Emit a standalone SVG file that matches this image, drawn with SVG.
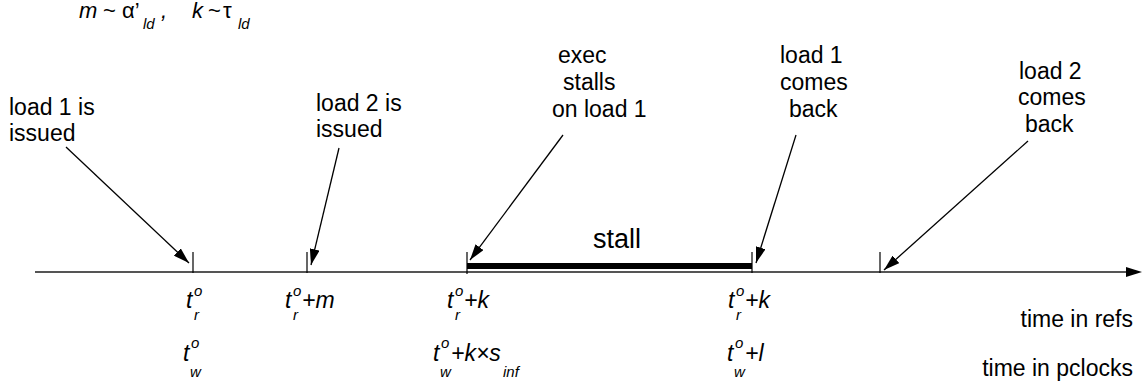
<svg xmlns="http://www.w3.org/2000/svg" width="1146" height="391" viewBox="0 0 1146 391">
<defs>
<style>
.lbl{font-family:"Liberation Sans",Arial,sans-serif;font-size:23px;fill:#000}
.big{font-family:"Liberation Sans",Arial,sans-serif;font-size:27px;fill:#000}
.m{font-family:"Liberation Sans",Arial,sans-serif;font-size:23px;font-style:italic;fill:#000}
.f{font-family:"Liberation Sans",Arial,sans-serif;font-size:22px;font-style:italic;fill:#000}
.s{font-size:15px}
.up{font-style:normal}
.arr{stroke:#000;stroke-width:1.3;fill:none;marker-end:url(#ah)}
.tick{stroke:#000;stroke-width:1.2}
</style>
<marker id="ah" viewBox="0 0 16 10" refX="16" refY="5" markerWidth="16" markerHeight="10" markerUnits="userSpaceOnUse" orient="auto">
<path d="M0,0 L16,5 L0,10 z" fill="#000"/>
</marker>
<marker id="axh" viewBox="0 0 16 10" refX="1" refY="5" markerWidth="16" markerHeight="10" markerUnits="userSpaceOnUse" orient="auto">
<path d="M0,0 L16,5 L0,10 z" fill="#000"/>
</marker>
</defs>
<rect width="1146" height="391" fill="#fff"/>

<g id="formula">
<text class="f" y="18"><tspan x="79">m</tspan><tspan x="103" class="up">~</tspan><tspan x="122" class="up">α’</tspan><tspan x="143" y="29" class="s">ld</tspan><tspan x="161" y="18">,</tspan><tspan x="192">k</tspan><tspan x="208" class="up">~</tspan><tspan x="223" class="up">τ</tspan><tspan x="238" y="29" class="s">ld</tspan></text>
</g>

<g id="timeline">
<line x1="35" y1="272" x2="1127" y2="272" stroke="#555" stroke-width="2" marker-end="url(#axh)"/>
<line class="tick" x1="193" y1="252" x2="193" y2="273"/>
<line class="tick" x1="307" y1="252" x2="307" y2="273"/>
<line class="tick" x1="467" y1="252" x2="467" y2="274"/>
<line class="tick" x1="752" y1="252" x2="752" y2="273"/>
<line class="tick" x1="880" y1="252" x2="880" y2="273"/>
<rect x="467" y="263" width="285" height="6" fill="#000"/>
</g>

<g id="n-stall"><text class="big" x="593" y="248">stall</text></g>
<g id="n-load1-issued"><text class="lbl" x="9" y="115">load 1 is</text><text class="lbl" x="9" y="141">issued</text></g>
<g id="n-load2-issued"><text class="lbl" x="316" y="111">load 2 is</text><text class="lbl" x="316" y="137">issued</text></g>
<g id="n-exec-stalls"><text class="lbl" x="558" y="63">exec</text><text class="lbl" x="563" y="90">stalls</text><text class="lbl" x="552" y="117">on load 1</text></g>
<g id="n-load1-back"><text class="lbl" x="780" y="63">load 1</text><text class="lbl" x="780" y="90">comes</text><text class="lbl" x="789" y="117">back</text></g>
<g id="n-load2-back"><text class="lbl" x="1019" y="79">load 2</text><text class="lbl" x="1018" y="105">comes</text><text class="lbl" x="1025" y="132">back</text></g>

<g id="n-tr0"><text class="m" x="186" y="308">t<tspan class="s" x="194" y="296">o</tspan><tspan class="s" x="194" y="320">r</tspan></text></g>
<g id="n-tr-m"><text class="m" x="285" y="308">t<tspan class="s" x="293" y="296">o</tspan><tspan class="s" x="293" y="320">r</tspan><tspan x="302" y="308">+m</tspan></text></g>
<g id="n-tr-k1"><text class="m" x="447" y="308">t<tspan class="s" x="455" y="296">o</tspan><tspan class="s" x="455" y="320">r</tspan><tspan x="464" y="308">+k</tspan></text></g>
<g id="n-tr-k2"><text class="m" x="728" y="308">t<tspan class="s" x="736" y="296">o</tspan><tspan class="s" x="736" y="320">r</tspan><tspan x="745" y="308">+k</tspan></text></g>
<g id="n-tw0"><text class="m" x="183" y="361">t<tspan class="s" x="191" y="348">o</tspan><tspan class="s" x="190" y="377">w</tspan></text></g>
<g id="n-tw-ks"><text class="m" x="433" y="361">t<tspan class="s" x="441" y="348">o</tspan><tspan class="s" x="440" y="377">w</tspan><tspan x="451" y="361">+k×s</tspan><tspan class="s" x="503" y="377">inf</tspan></text></g>
<g id="n-tw-l"><text class="m" x="727" y="361">t<tspan class="s" x="735" y="348">o</tspan><tspan class="s" x="734" y="377">w</tspan><tspan x="745" y="361">+l</tspan></text></g>
<g id="n-refs"><text class="lbl" x="1133" y="327" text-anchor="end">time in refs</text></g>
<g id="n-pclocks"><text class="lbl" x="1133" y="376" text-anchor="end">time in pclocks</text></g>

<g id="connectors">
<line class="arr" x1="66" y1="147" x2="189" y2="263"/>
<line class="arr" x1="339" y1="148" x2="311" y2="265"/>
<line class="arr" x1="563" y1="135" x2="470" y2="260"/>
<line class="arr" x1="796" y1="135" x2="756" y2="263"/>
<line class="arr" x1="1028" y1="141" x2="884" y2="270"/>
</g>
</svg>
